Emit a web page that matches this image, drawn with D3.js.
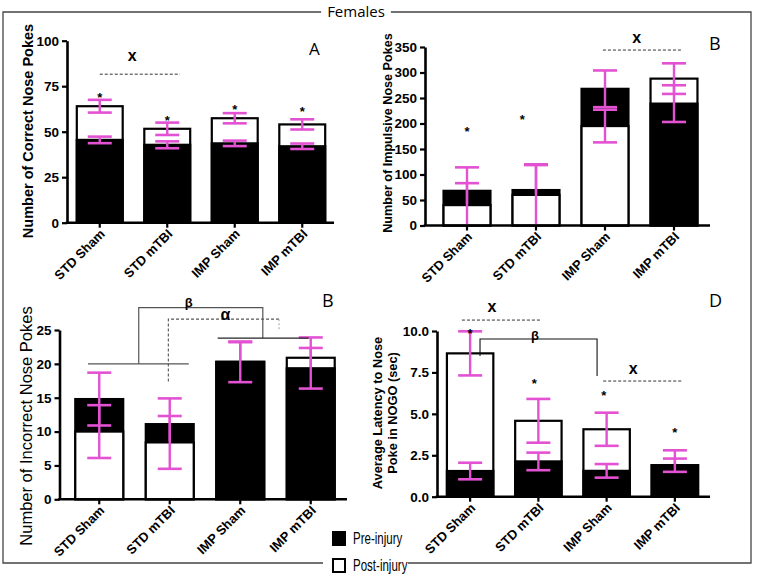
<!DOCTYPE html>
<html>
<head>
<meta charset="utf-8">
<script src="https://cdn.jsdelivr.net/npm/d3@7"></script>
<style>
body { margin: 0; background: #fff; }
svg { display: block; font-family: Arial, "Liberation Sans", Helvetica, sans-serif; }
</style>
</head>
<body>
<div id="chart"></div>
<script>
// groups on the x axis (same in every panel)
const categories = ["STD Sham", "STD mTBI", "IMP Sham", "IMP mTBI"];

// A - correct nose pokes
const correctPre = [45.5, 42.8, 43.6, 42];
const correctPreErr = [1.8, 1.9, 1.5, 1.5];
const correctPost = [64, 51.6, 57.4, 54];
const correctPostErr = [3.5, 3.4, 2.8, 2.8];
const correctTicks = [0, 25, 50, 75, 100];
const correctStars = [70.2, 58, 64, 62.5];

// B - impulsive nose pokes
const impulsivePre = [68, 69.5, 268, 239];
const impulsivePreErr = [46, 49, 36, 36];
const impulsivePost = [40, 60, 195, 288];
const impulsivePostErr = [43, 60, 32, 30];
const impulsiveTicks = [0, 50, 100, 150, 200, 250, 300, 350];
const impulsiveStars = [191, 213, null, null];

// B (bottom) - incorrect nose pokes
const incorrectPre = [14.8, 11.1, 20.3, 19.35];
const incorrectPreErr = [3.9, 3.8, 3.0, 3.0];
const incorrectPost = [10, 8.4, 20.3, 20.9];
const incorrectPostErr = [3.9, 3.9, 2.9, 3.0];
const incorrectTicks = [0, 5, 10, 15, 20, 25];

// D - latency to nose poke in NOGO
const latencyPre = [1.55, 2.13, 1.56, 1.9];
const latencyPreErr = [0.5, 0.53, 0.41, 0.4];
const latencyPost = [8.65, 4.58, 4.07, 1.9];
const latencyPostErr = [1.33, 1.32, 1.0, 0.9];
const latencyTicks = [0, 2.5, 5, 7.5, 10];
const latencyStars = [10.05, 7.0, 6.26, 4.03];

const W = 759, H = 582;
const pink = "#e352d2";

const svg = d3.select("#chart").append("svg")
    .attr("width", W)
    .attr("height", H);

function drawPanel(p) {
    const x = d3.scaleBand()
        .domain(categories)
        .range(p.xRange)
        .paddingInner(0.32)
        .paddingOuter(0.16);
    const y = d3.scaleLinear().domain([0, p.yMax]).range([p.y0, p.yTop]);
    const step = x.step();
    const cx = i => x(categories[0]) + x.bandwidth() / 2 + i * step;
    const g = svg.append("g");

    // bars: taller one behind, shorter one in front (ties: pre in front)
    categories.forEach((c, i) => {
        const layers = [
            { v: p.post[i], e: p.postErr[i], fill: "#fff" },
            { v: p.pre[i], e: p.preErr[i], fill: "#000" }
        ];
        layers.sort((a, b) => b.v - a.v);
        layers.forEach(l => {
            g.append("rect")
                .attr("x", x(c))
                .attr("width", x.bandwidth())
                .attr("y", y(l.v))
                .attr("height", y(0) - y(l.v))
                .attr("fill", l.fill)
                .attr("stroke", "#000")
                .attr("stroke-width", 2.2);
            const hi = l.v + l.e, lo = l.v - l.e;
            const xc = x(c) + x.bandwidth() / 2;
            g.append("line")
                .attr("x1", xc).attr("x2", xc)
                .attr("y1", y(Math.max(lo, 0))).attr("y2", y(hi))
                .attr("stroke", pink).attr("stroke-width", 2.4);
            const caps = lo > 0 ? [hi, lo] : [hi];
            caps.forEach(cv => {
                g.append("line")
                    .attr("x1", xc - 12).attr("x2", xc + 12)
                    .attr("y1", y(cv)).attr("y2", y(cv))
                    .attr("stroke", pink).attr("stroke-width", 2.6);
            });
        });
    });

    // y axis
    const yAxis = g.append("g")
        .attr("transform", `translate(${p.axisX},0)`)
        .call(d3.axisLeft(y).tickValues(p.ticks).tickSize(5).tickSizeOuter(0).tickPadding(3).tickFormat(p.fmt));
    yAxis.select(".domain").attr("stroke-width", 2.6);
    yAxis.selectAll(".tick line").attr("stroke-width", 2.2);
    yAxis.selectAll(".tick text")
        .attr("font-size", 13.5)
        .attr("font-weight", "bold")
        .attr("font-family", "Arial, 'Liberation Sans', sans-serif");

    // x axis
    g.append("line")
        .attr("x1", p.axisX - 1.3).attr("x2", p.xEnd)
        .attr("y1", y(0)).attr("y2", y(0))
        .attr("stroke", "#000").attr("stroke-width", 2.6);
    g.selectAll(".xtick")
        .data(categories)
        .join("line")
        .attr("x1", d => x(d) + x.bandwidth() / 2)
        .attr("x2", d => x(d) + x.bandwidth() / 2)
        .attr("y1", y(0)).attr("y2", y(0) + 5)
        .attr("stroke", "#000").attr("stroke-width", 2.2);
    g.selectAll(".xlab")
        .data(categories)
        .join("text")
        .attr("transform", d => `translate(${x(d) + x.bandwidth() / 2 + 6},${y(0) + 12}) rotate(-45)`)
        .attr("text-anchor", "end")
        .attr("font-size", 13)
        .attr("font-weight", "bold")
        .text(d => d);

    // y label
    const yl = g.append("text")
        .attr("transform", `translate(${p.labelX},${p.labelY}) rotate(-90)`)
        .attr("text-anchor", "middle")
        .attr("font-size", p.labelSize)
        .attr("font-weight", p.labelWeight);
    p.label.forEach((t, k) => {
        yl.append("tspan")
            .attr("x", 0)
            .attr("dy", k === 0 ? 0 : p.labelSize * 1.18)
            .text(t);
    });

    // panel letter
    g.append("text")
        .attr("x", p.letterX).attr("y", p.letterY)
        .attr("font-family", "'Open Sans', 'Noto Sans', sans-serif")
        .attr("font-size", p.letterSize)
        .text(p.letter);

    // stars
    if (p.stars) {
        p.stars.forEach((s, i) => {
            if (s == null) return;
            g.append("text")
                .attr("x", cx(p.starIdx ? p.starIdx[i] : i))
                .attr("y", y(s) + 7.5)
                .attr("text-anchor", "middle")
                .attr("font-size", 13)
                .attr("font-weight", "bold")
                .text("*");
        });
    }

    // significance marks
    (p.sigs || []).forEach(s => {
        g.append("line")
            .attr("x1", cx(s.from)).attr("x2", cx(s.to))
            .attr("y1", y(s.line)).attr("y2", y(s.line))
            .attr("stroke", "#333").attr("stroke-width", 1)
            .attr("stroke-dasharray", "3,2");
        g.append("text")
            .attr("x", cx(s.at)).attr("y", y(s.v) + 4)
            .attr("text-anchor", "middle")
            .attr("font-size", 16)
            .attr("font-weight", "bold")
            .text("x");
    });

    if (p.extra) p.extra(g, cx, y);
}

drawPanel({
    pre: correctPre, preErr: correctPreErr, post: correctPost, postErr: correctPostErr,
    ticks: correctTicks, yMax: 100, fmt: d3.format("d"),
    axisX: 67, xRange: [66, 336], xEnd: 334, y0: 222.7, yTop: 40.7,
    label: ["Number of Correct Nose Pokes"], labelX: 33, labelY: 131, labelSize: 14.5, labelWeight: "bold",
    letter: "A", letterX: 309, letterY: 55, letterSize: 17,
    stars: correctStars,
    sigs: [{ from: 0, to: 1.19, line: 81.6, at: 0.48, v: 91 }]
});

drawPanel({
    pre: impulsivePre, preErr: impulsivePreErr, post: impulsivePost, postErr: impulsivePostErr,
    ticks: impulsiveTicks, yMax: 350, fmt: d3.format("d"),
    axisX: 425, xRange: [432.5, 708.5], xEnd: 710, y0: 225.5, yTop: 47,
    label: ["Number of Impulsive Nose Pokes"], labelX: 392, labelY: 133, labelSize: 12.6, labelWeight: "bold",
    letter: "B", letterX: 709, letterY: 50, letterSize: 18,
    stars: impulsiveStars, starIdx: [0, 0.8, 2, 3],
    sigs: [{ from: 1.97, to: 3.13, line: 344, at: 2.46, v: 366 }]
});

drawPanel({
    pre: incorrectPre, preErr: incorrectPreErr, post: incorrectPost, postErr: incorrectPostErr,
    ticks: incorrectTicks, yMax: 25, fmt: d3.format("d"),
    axisX: 59.5, xRange: [64, 346], xEnd: 347, y0: 499.3, yTop: 330,
    label: ["Number of Incorrect Nose Pokes"], labelX: 32, labelY: 426, labelSize: 16.5, labelWeight: "normal",
    letter: "B", letterX: 322, letterY: 307, letterSize: 18,
    extra: (g, cx, y) => {
        const solid = (pts, col) => g.append("path")
            .attr("d", d3.line()(pts))
            .attr("fill", "none").attr("stroke", col || "#555").attr("stroke-width", 1.2);
        solid([[cx(-0.16), y(20)], [cx(1.27), y(20)]]);
        solid([[cx(0.56), y(20)], [cx(0.56), y(28.3)], [cx(2.32), y(28.3)], [cx(2.32), y(23.8)]]);
        solid([[cx(1.68), y(23.8)], [cx(2.97), y(23.8)]], "#222");
        g.append("path")
            .attr("d", d3.line()([[cx(0.98), y(17.4)], [cx(0.98), y(26.6)], [cx(2.55), y(26.6)]]))
            .attr("fill", "none").attr("stroke", "#555").attr("stroke-width", 1.1)
            .attr("stroke-dasharray", "3,2");
        g.append("path")
            .attr("d", d3.line()([[cx(2.55), y(26.6)], [cx(2.55), y(24.8)]]))
            .attr("fill", "none").attr("stroke", "#aaa").attr("stroke-width", 1.1)
            .attr("stroke-dasharray", "2,2");
        g.append("text").attr("x", cx(1.27)).attr("y", y(29.2) + 5)
            .attr("text-anchor", "middle").attr("font-size", 13).attr("font-weight", "bold").text("β");
        g.append("text").attr("x", cx(1.79)).attr("y", y(27) + 4)
            .attr("text-anchor", "middle").attr("font-size", 16).attr("font-weight", "bold").text("α");
    }
});

drawPanel({
    pre: latencyPre, preErr: latencyPreErr, post: latencyPost, postErr: latencyPostErr,
    ticks: latencyTicks, yMax: 10, fmt: d3.format(".1f"),
    axisX: 437, xRange: [436, 709], xEnd: 710, y0: 496.7, yTop: 331,
    label: ["Average Latency to Nose", "Poke in NOGO (sec)"], labelX: 382, labelY: 413, labelSize: 12.8, labelWeight: "bold",
    letter: "D", letterX: 709, letterY: 307, letterSize: 18,
    stars: latencyStars, starIdx: [0, 0.94, 1.96, 3],
    sigs: [
        { from: -0.12, to: 1.05, line: 10.66, at: 0.32, v: 11.4 },
        { from: 1.95, to: 3.12, line: 6.98, at: 2.39, v: 7.65 }
    ],
    extra: (g, cx, y) => {
        g.append("path")
            .attr("d", d3.line()([[cx(0.145), y(8.49)], [cx(0.145), y(9.52)], [cx(1.86), y(9.52)], [cx(1.86), y(7.28)]]))
            .attr("fill", "none").attr("stroke", "#111").attr("stroke-width", 1.1);
        g.append("text").attr("x", cx(0.95)).attr("y", y(9.75) + 5)
            .attr("text-anchor", "middle").attr("font-size", 13).attr("font-weight", "bold").text("β");
    }
});

// outer frame with title and legend cut into it
const frame = svg.append("g");
const title = frame.append("text")
    .attr("x", 356).attr("y", 17)
    .attr("text-anchor", "middle")
    .attr("font-family", "'Open Sans', 'Noto Sans', sans-serif")
    .attr("font-size", 15)
    .text("Females");
const tb = title.node().getBBox();
frame.append("path")
    .attr("d", `M${tb.x - 6},12 H3 V563 H323 M408,563 H751 V12 H${tb.x + tb.width + 6}`)
    .attr("fill", "none").attr("stroke", "#444").attr("stroke-width", 1.3);

const legendItems = [["Pre-injury", "#000"], ["Post-injury", "#fff"]];
legendItems.forEach((d, k) => {
    const ly = 532 + k * 27;
    frame.append("rect")
        .attr("x", 333).attr("y", ly)
        .attr("width", 12).attr("height", 13)
        .attr("fill", d[1]).attr("stroke", "#000").attr("stroke-width", 2);
    // condensed look of the original legend font
    frame.append("text")
        .attr("transform", `translate(353,${ly + 12}) scale(0.72,1)`)
        .attr("font-family", "'Liberation Sans Narrow', 'Arial Narrow', Arial, sans-serif")
        .attr("font-size", 16)
        .text(d[0]);
});
</script>
</body>
</html>
